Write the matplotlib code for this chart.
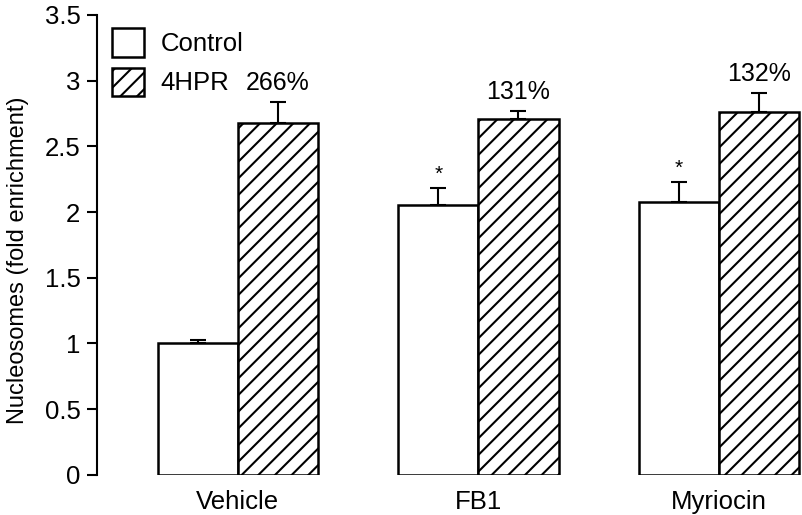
import numpy as np
import matplotlib.pyplot as plt

plt.rcParams['font.family'] = ['Liberation Sans', 'DejaVu Sans']
plt.rcParams['hatch.linewidth'] = 1.5

groups = ['Vehicle', 'FB1', 'Myriocin']
control = [1.00, 2.05, 2.08]
control_err = [0.025, 0.13, 0.15]
hpr = [2.68, 2.71, 2.76]
hpr_err = [0.16, 0.06, 0.145]
pct_labels = ['266%', '131%', '132%']
star = ['', '*', '*']

x = np.arange(len(groups))
w = 0.333

fig = plt.figure(figsize=(8.02, 5.15), dpi=100)
ax = fig.add_axes([0.121, 0.078, 0.879, 0.893])

ekw = dict(elinewidth=1.5, capthick=1.5, ecolor='black')
ax.bar(x - w/2, control, w, color='white', edgecolor='black', linewidth=1.8,
       yerr=[np.zeros(3), control_err], capsize=6, error_kw=ekw, label='Control', zorder=2)
ax.bar(x + w/2, hpr, w, color='white', edgecolor='black', linewidth=1.8, hatch='//',
       yerr=[np.zeros(3), hpr_err], capsize=6, error_kw=ekw, label='4HPR', zorder=2)

for i in range(len(groups)):
    ax.annotate(pct_labels[i], (x[i] + w/2, hpr[i] + hpr_err[i]), xytext=(0, 5),
                textcoords='offset points', ha='center', va='bottom', fontsize=18)
    if star[i]:
        ax.annotate(star[i], (x[i] - w/2, control[i] + control_err[i]), xytext=(0, 3),
                    textcoords='offset points', ha='center', va='bottom', fontsize=15)

ax.set_xlim(-0.585, 2.345)
ax.set_ylim(0, 3.5)
ax.set_yticks(np.arange(0, 3.51, 0.5))
ax.set_yticklabels(['0', '0.5', '1', '1.5', '2', '2.5', '3', '3.5'])
ax.set_xticks(x)
ax.set_xticklabels(groups)
ax.tick_params(axis='y', length=7, width=1.5, pad=5, labelsize=18.5)
ax.tick_params(axis='x', length=0, pad=11, labelsize=18.5)
for s in ['top', 'right', 'bottom']:
    ax.spines[s].set_visible(False)
ax.spines['left'].set_linewidth(1.5)
ax.set_ylabel('Nucleosomes (fold enrichment)', fontsize=17)
ax.yaxis.set_label_coords(-0.097, 0.467)

ax.legend(loc='upper left', bbox_to_anchor=(0.007, 0.9935), frameon=False, fontsize=18.5,
          handlelength=1.25, handleheight=1.32, labelspacing=0.43, handletextpad=0.62,
          borderaxespad=0)

fig.savefig('out.png', dpi=100)
